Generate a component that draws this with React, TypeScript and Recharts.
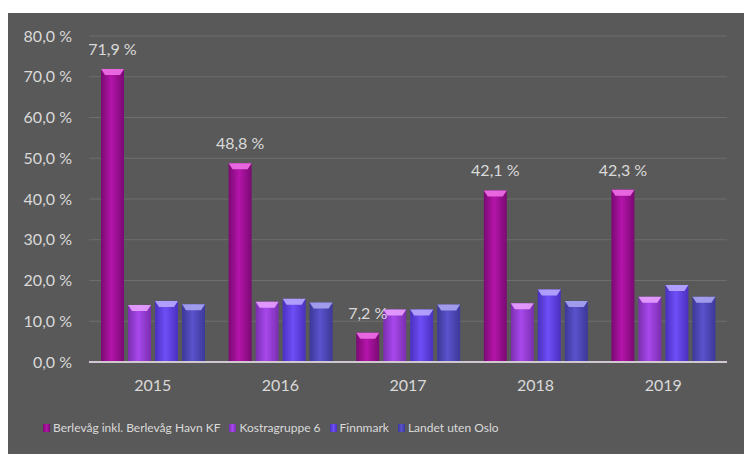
import { Bar, BarChart, CartesianGrid, LabelList, Legend, XAxis, YAxis } from "recharts";

const years = ["2015", "2016", "2017", "2018", "2019"];
const berlevag = [71.9, 48.8, 7.2, 42.1, 42.3];
const kostra = [14.0, 14.8, 12.9, 14.4, 16.0];
const finnmark = [15.0, 15.5, 12.9, 17.8, 18.9];
const landet = [14.2, 14.6, 14.1, 15.0, 16.0];
const yTicks = [0, 10, 20, 30, 40, 50, 60, 70, 80];

const series = [
  { key: "berlevag", name: "Berlevåg inkl. Berlevåg Havn KF", dark: "#7a0a72", mid: "#b414aa", top: "#f070e8" },
  { key: "kostra", name: "Kostragruppe 6", dark: "#7a2eb0", mid: "#a848ec", top: "#e8a0ff" },
  { key: "finnmark", name: "Finnmark", dark: "#4a30c0", mid: "#6e4ef6", top: "#b8a8ff" },
  { key: "landet", name: "Landet uten Oslo", dark: "#3c3898", mid: "#5a52cc", top: "#a8a4f0" },
];

const data = years.map((year, i) => ({
  year,
  berlevag: berlevag[i],
  kostra: kostra[i],
  finnmark: finnmark[i],
  landet: landet[i],
}));

const pct = (v: number) => v.toFixed(1).replace(".", ",") + " %";

const FONT = "Lato, 'Open Sans', sans-serif";

function makeShape(idx: number) {
  const s = series[idx];
  return (props: any) => {
    const { x, y, width, height } = props;
    if (!height || height <= 0) return null;
    const cap = Math.min(6, height);
    return (
      <g>
        <rect x={x} y={y} width={width} height={height} fill={`url(#grad${idx})`} />
        <path
          d={`M${x},${y} L${x + width},${y} L${x + width - 4},${y + cap} L${x + 4},${y + cap} Z`}
          fill={s.top}
          opacity={0.9}
        />
      </g>
    );
  };
}

function TopLabel(props: any) {
  const { x, y, width, value } = props;
  return (
    <text
      x={x + width / 2}
      y={y - 14}
      textAnchor="middle"
      fill="#d9d9d9"
      fontSize={16}
      fontFamily={FONT}
    >
      {pct(Number(value))}
    </text>
  );
}

function LegendContent() {
  return (
    <div
      style={{
        display: "flex",
        gap: 9,
        paddingLeft: 35,
        fontFamily: FONT,
        fontSize: 12,
        color: "#d9d9d9",
      }}
    >
      {series.map((s) => (
        <div key={s.key} style={{ display: "flex", alignItems: "center", gap: 3 }}>
          <span
            style={{
              width: 7,
              height: 8,
              display: "inline-block",
              background: `linear-gradient(90deg, ${s.dark}, ${s.mid}, ${s.dark})`,
            }}
          />
          <span>{s.name}</span>
        </div>
      ))}
    </div>
  );
}

export default function App() {
  return (
    <div
      style={{
        position: "fixed",
        left: 8,
        top: 13,
        width: 736,
        height: 441,
        background: "#595959",
      }}
    >
      <BarChart
        width={736}
        height={441}
        data={data}
        margin={{ top: 23, right: 17, left: 0, bottom: 0 }}
        barSize={23}
        barGap={4}
      >
        <defs>
          {series.map((s, i) => (
            <linearGradient key={s.key} id={`grad${i}`} x1="0" y1="0" x2="1" y2="0">
              <stop offset="0%" stopColor={s.dark} />
              <stop offset="45%" stopColor={s.mid} />
              <stop offset="100%" stopColor={s.dark} />
            </linearGradient>
          ))}
        </defs>
        <CartesianGrid vertical={false} stroke="#6e6e6e" />
        <XAxis
          dataKey="year"
          height={77}
          tickLine={false}
          tickSize={0}
          tickMargin={18}
          axisLine={{ stroke: "#d0c8d0", strokeWidth: 2 }}
          tick={{ fill: "#d9d9d9", fontSize: 16, fontFamily: FONT }}
        />
        <YAxis
          width={81}
          domain={[0, 80]}
          ticks={yTicks}
          tickFormatter={pct}
          axisLine={false}
          tickLine={false}
          tickSize={0}
          tickMargin={17}
          tick={{ fill: "#d9d9d9", fontSize: 16, fontFamily: FONT }}
        />
        <Legend verticalAlign="bottom" align="left" content={<LegendContent />} wrapperStyle={{ bottom: 19 }} />
        {series.map((s, i) => (
          <Bar
            key={s.key}
            dataKey={s.key}
            name={s.name}
            fill={s.mid}
            shape={makeShape(i)}
            isAnimationActive={false}
          >
            {i === 0 && <LabelList dataKey={s.key} content={<TopLabel />} />}
          </Bar>
        ))}
      </BarChart>
    </div>
  );
}
